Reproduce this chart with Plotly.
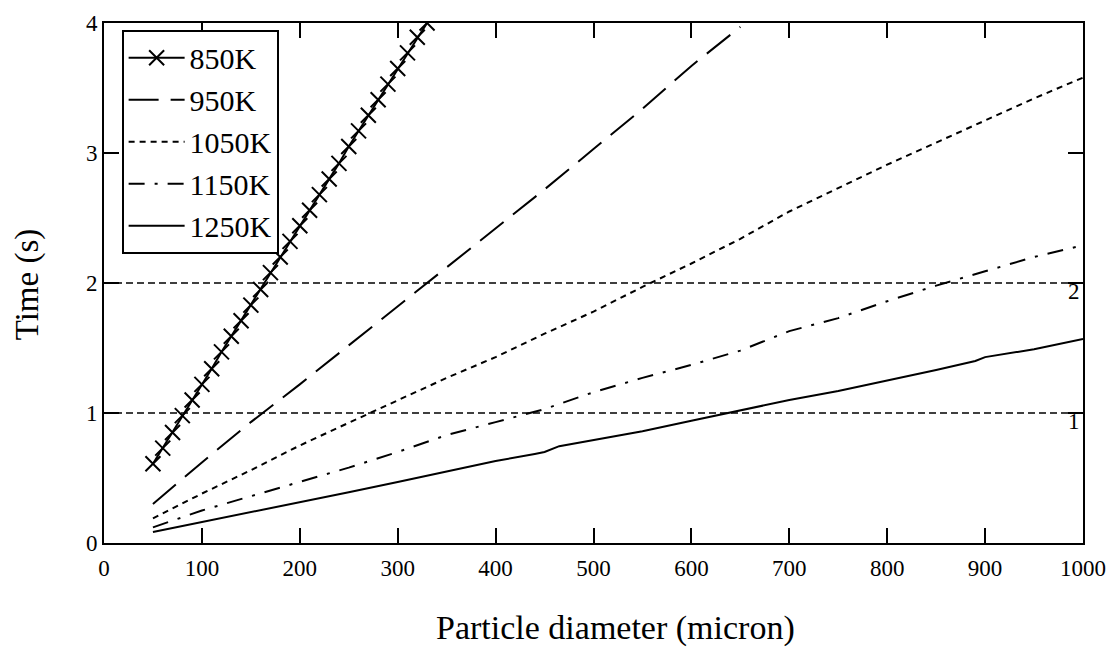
import plotly.graph_objects as go

# ---------------- data ----------------
x_850 = [50, 60, 70, 80, 90, 100, 110, 120, 130, 140, 150, 160, 170, 180, 190,
         200, 210, 220, 230, 240, 250, 260, 270, 280, 290, 300, 310, 320, 330]
y_850 = [0.61, 0.73, 0.85, 0.98, 1.10, 1.22, 1.34, 1.47, 1.59, 1.71, 1.83, 1.95,
         2.08, 2.20, 2.32, 2.44, 2.56, 2.68, 2.80, 2.92, 3.05, 3.17, 3.29, 3.41,
         3.53, 3.65, 3.77, 3.89, 4.00]

x_950 = [50, 100, 150, 200, 250, 300, 350, 400, 450, 500, 550, 600, 650]
y_950 = [0.30, 0.62, 0.93, 1.22, 1.52, 1.82, 2.12, 2.42, 2.72, 3.03, 3.34, 3.67, 3.97]

x_1050 = [50, 100, 150, 200, 250, 300, 350, 400, 450, 500, 550, 600, 650, 700,
          750, 800, 850, 900, 950, 1000]
y_1050 = [0.19, 0.38, 0.56, 0.75, 0.925, 1.10, 1.27, 1.43, 1.61, 1.78, 1.97, 2.15,
          2.34, 2.55, 2.73, 2.91, 3.08, 3.25, 3.42, 3.58]

x_1150 = [50, 100, 150, 200, 250, 300, 350, 400, 450, 500, 550, 600, 650, 700,
          750, 800, 850, 900, 950, 1000]
y_1150 = [0.12, 0.25, 0.36, 0.47, 0.58, 0.70, 0.83, 0.93, 1.03, 1.16, 1.27, 1.37,
          1.48, 1.63, 1.73, 1.86, 1.98, 2.09, 2.20, 2.29]

x_1250 = [50, 100, 150, 200, 250, 300, 350, 400, 440, 450, 465, 500, 550, 600,
          650, 700, 750, 800, 850, 890, 900, 950, 1000]
y_1250 = [0.085, 0.16, 0.235, 0.31, 0.39, 0.47, 0.55, 0.63, 0.685, 0.70, 0.745,
          0.79, 0.86, 0.94, 1.02, 1.10, 1.17, 1.25, 1.33, 1.40, 1.43, 1.49, 1.57]

series_names = ["850K", "950K", "1050K", "1150K", "1250K"]
x_ticks = [0, 100, 200, 300, 400, 500, 600, 700, 800, 900, 1000]
y_ticks = [0, 1, 2, 3, 4]
ref_levels = [1, 2]

FONT = "Liberation Serif"

fig = go.Figure()

fig.add_trace(go.Scatter(
    x=x_850, y=y_850, name=series_names[0], mode="lines+markers",
    line=dict(color="black", width=2),
    marker=dict(symbol="x-thin", size=15, color="black",
                line=dict(color="black", width=2)),
))
fig.add_trace(go.Scatter(
    x=x_950, y=y_950, name=series_names[1], mode="lines",
    line=dict(color="black", width=2, dash="30px,12px"),
))
fig.add_trace(go.Scatter(
    x=x_1050, y=y_1050, name=series_names[2], mode="lines",
    line=dict(color="black", width=2, dash="6px,5px"),
))
fig.add_trace(go.Scatter(
    x=x_1150, y=y_1150, name=series_names[3], mode="lines",
    line=dict(color="black", width=2, dash="16px,10px,3px,10px"),
))
fig.add_trace(go.Scatter(
    x=x_1250, y=y_1250, name=series_names[4], mode="lines",
    line=dict(color="black", width=2),
))

# reference dashed lines and their labels
for lv in ref_levels:
    fig.add_shape(type="line", xref="x", yref="y", x0=0, x1=1000, y0=lv, y1=lv,
                  line=dict(color="black", width=1.4, dash="7px,4px"), layer="below")
    fig.add_annotation(x=1000, y=lv, xref="x", yref="y", text=str(lv),
                       showarrow=False, xanchor="right", yanchor="middle",
                       xshift=-1, yshift=-8,
                       font=dict(family=FONT, size=23, color="black"))

# axis titles
fig.add_annotation(x=522, y=0, xref="x", yref="paper", text="Particle diameter (micron)",
                   showarrow=False, xanchor="center", yanchor="middle", yshift=-85,
                   font=dict(family=FONT, size=34, color="black"))
fig.add_annotation(x=0, y=1.99, xref="paper", yref="y", text="Time (s)",
                   showarrow=False, xanchor="center", yanchor="middle", xshift=-77,
                   textangle=-90, font=dict(family=FONT, size=33, color="black"))

axis_common = dict(
    showgrid=False, zeroline=False, showline=True, linecolor="black", linewidth=2,
    mirror="ticks", ticks="inside", ticklen=15, tickwidth=2, tickcolor="black",
    tickfont=dict(family=FONT, size=23, color="black"),
)

fig.update_layout(
    width=1117, height=650,
    margin=dict(l=104, r=34, t=11, b=107),
    paper_bgcolor="white", plot_bgcolor="white",
    font=dict(family=FONT, color="black"),
    xaxis=dict(range=[0, 1000], tickvals=x_ticks, ticklabelstandoff=3, **axis_common),
    yaxis=dict(range=[0, 4], tickvals=y_ticks, **axis_common),
    legend=dict(x=0.018, y=0.987, xanchor="left", yanchor="top",
                bgcolor="white", bordercolor="black", borderwidth=2,
                itemwidth=56, tracegroupgap=0,
                font=dict(family=FONT, size=30, color="black")),
    showlegend=True,
)

fig.write_html("out.html")
